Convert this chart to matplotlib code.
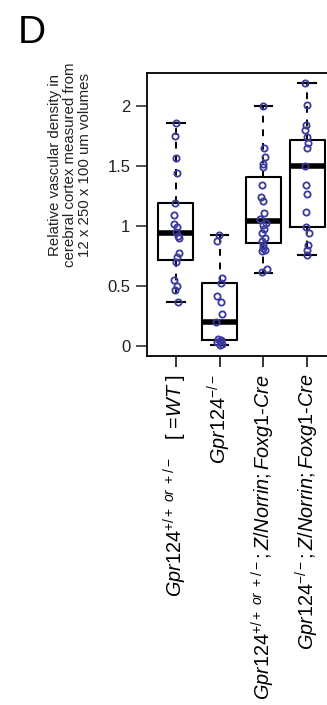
import matplotlib
matplotlib.use('Agg')
import matplotlib.pyplot as plt

plt.rcParams['font.family'] = ['Liberation Sans', 'DejaVu Sans']
plt.rcParams['mathtext.fontset'] = 'custom'
plt.rcParams['mathtext.rm'] = 'Liberation Sans'
plt.rcParams['mathtext.it'] = 'Liberation Sans:italic'

# values
wt = [1.86, 1.75, 1.57, 1.44, 1.19, 1.09, 1.02, 0.99, 0.95, 0.92, 0.90,
      0.78, 0.74, 0.70, 0.55, 0.50, 0.47, 0.37]
wt_dx = [0.0, -0.02, 0.0, 0.02, -0.03, -0.04, -0.05, 0.03, 0.0, 0.05, 0.06,
         0.08, 0.02, 0.0, -0.05, 0.02, -0.02, 0.04]
ko = [0.93, 0.88, 0.57, 0.53, 0.42, 0.37, 0.27, 0.20, 0.06, 0.05, 0.04, 0.03, 0.02, 0.01]
ko_dx = [-0.02, -0.06, 0.05, 0.02, -0.05, 0.02, 0.06, -0.08, -0.03, 0.03, 0.0, -0.06, 0.05, 0.0]
wt_norrin = [2.00, 1.65, 1.58, 1.52, 1.49, 1.34, 1.24, 1.21, 1.11, 1.06, 1.03, 1.01,
             0.98, 0.94, 0.90, 0.88, 0.84, 0.82, 0.80, 0.79, 0.64, 0.62]
wt_norrin_dx = [0.0, 0.02, 0.04, 0.0, -0.02, -0.04, -0.06, 0.0, 0.02, -0.07, 0.05, -0.02,
                0.02, -0.03, 0.03, -0.04, 0.0, -0.02, 0.03, -0.03, 0.08, -0.03]
ko_norrin = [2.19, 2.01, 1.84, 1.80, 1.74, 1.69, 1.65, 1.50, 1.34, 1.27, 1.12,
             0.99, 0.94, 0.84, 0.80, 0.76]
ko_norrin_dx = [-0.04, 0.0, -0.02, -0.04, 0.0, 0.02, 0.0, -0.04, -0.02, 0.0, -0.02,
                -0.03, 0.05, 0.03, 0.0, 0.0]

# box stats as drawn (q1, median, q3, whisker ends)
q1 = [0.72, 0.05, 0.86, 0.99]
med = [0.94, 0.20, 1.04, 1.50]
q3 = [1.19, 0.53, 1.41, 1.72]
wlo = [0.37, 0.01, 0.61, 0.76]
whi = [1.86, 0.93, 2.00, 2.19]

labels = [r'$\mathit{Gpr124}^{+/+\ or\ +/-}$   [ =$\mathit{WT}$ ]',
          r'$\mathit{Gpr124}^{-/-}$',
          r'$\mathit{Gpr124}^{+/+\ or\ +/-}\mathit{;Z/Norrin;Foxg1}$-$\mathit{Cre}$',
          r'$\mathit{Gpr124}^{-/-}\mathit{;Z/Norrin;Foxg1}$-$\mathit{Cre}$']

groups = [wt, ko, wt_norrin, ko_norrin]
offsets = [wt_dx, ko_dx, wt_norrin_dx, ko_norrin_dx]
pt_color = '#3a3a9e'

fig = plt.figure(figsize=(3.27, 7.05), dpi=100)
ax = fig.add_axes([147 / 327, 1 - 356 / 705, 189 / 327, 283.3 / 705])

stats = []
for i in range(4):
    stats.append({'q1': q1[i], 'med': med[i], 'q3': q3[i],
                  'whislo': wlo[i], 'whishi': whi[i], 'fliers': []})
ax.bxp(stats, positions=[1, 2, 3, 4], widths=0.8, capwidths=0.4, patch_artist=False,
       boxprops=dict(color='black', linewidth=1.5),
       medianprops=dict(color='black', linewidth=4, solid_capstyle='butt'),
       whiskerprops=dict(color='black', linewidth=1.4, linestyle=(0, (3.5, 3.5))),
       capprops=dict(color='black', linewidth=1.5))

for i, (vals, dx) in enumerate(zip(groups, offsets)):
    xs = [i + 1 + d for d in dx]
    ax.plot(xs, vals, 'o', mfc='none', mec=pt_color, mew=1.3, ms=4.5, zorder=4)

ax.set_xlim(0.34, 4.66)
ax.set_ylim(-0.083, 2.28)
ax.set_yticks([0, 0.5, 1, 1.5, 2])
ax.set_yticklabels(['0', '0.5', '1', '1.5', '2'])
ax.set_xticks([1, 2, 3, 4])
ax.set_xticklabels(labels, rotation=90, fontsize=14.3, va='top', ha='center')
ax.tick_params(axis='y', length=8, width=1.1, labelsize=12, colors='#222222', pad=4)
ax.tick_params(axis='x', length=8, width=1.1, pad=5)
for s in ax.spines.values():
    s.set_linewidth(1.3)

fig.text(0.213, 1 - 165 / 705,
         'Relative vascular density in\ncerebral cortex measured from\n12 x 250 x 100 um volumes',
         rotation=90, ha='center', va='center', fontsize=10.8, color='#222222',
         linespacing=1.1)
fig.text(18 / 327, 1 - 43 / 705, 'D', fontsize=28, ha='left', va='baseline')

fig.savefig('out.png', dpi=100)
